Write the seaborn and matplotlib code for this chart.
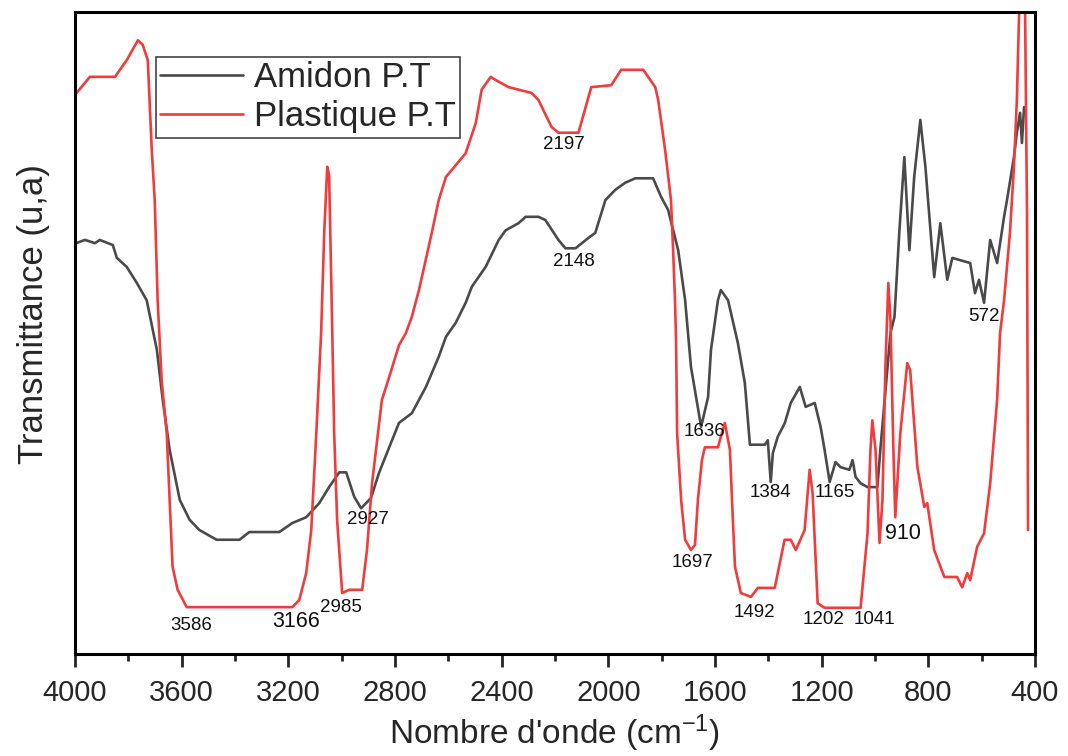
import numpy as np
import pandas as pd
import matplotlib.pyplot as plt
import seaborn as sns

# spectre FTIR : amidon et plastique
wn_amidon = [3995, 3963, 3925, 3907, 3858, 3843, 3806, 3768, 3731, 3693, 3671, 3645, 3607, 3570,
             3533, 3469, 3383, 3346, 3234, 3185, 3133, 3084, 3047, 3009, 2983, 2953, 2927, 2890,
             2860, 2811, 2785, 2737, 2684, 2636, 2609, 2572, 2535, 2512, 2460, 2411, 2385, 2337,
             2310, 2262, 2236, 2187, 2161, 2123, 2075, 2049, 2011, 1974, 1937, 1899, 1832, 1802,
             1776, 1738, 1712, 1690, 1652, 1626, 1615, 1589, 1578, 1551, 1514, 1488, 1469, 1413,
             1402, 1391, 1383, 1365, 1338, 1316, 1282, 1260, 1226, 1204, 1189, 1170, 1148, 1129,
             1096, 1084, 1073, 1054, 1028, 991, 980, 953, 942, 927, 909, 890, 871, 853, 830, 811,
             778, 755, 729, 710, 643, 625, 610, 591, 568, 542, 516, 505, 479, 468, 456, 449, 441]
t_amidon = [64.0, 64.5, 64.0, 64.5, 63.7, 61.7, 60.3, 57.8, 55.1, 47.4, 39.6, 31.8, 24.0, 20.9,
            19.3, 17.8, 17.8, 19.0, 19.0, 20.4, 21.3, 23.5, 26.0, 28.3, 28.3, 24.5, 22.7, 24.3,
            28.2, 33.3, 36.0, 37.5, 41.6, 46.3, 49.4, 51.6, 54.7, 57.2, 60.3, 64.5, 66.0, 67.1,
            68.1, 68.1, 67.6, 64.5, 63.2, 63.2, 64.8, 65.6, 70.7, 72.3, 73.4, 74.1, 74.1, 71.2,
            69.2, 62.9, 55.1, 44.7, 35.4, 40.0, 47.4, 55.1, 56.7, 55.1, 48.4, 42.2, 32.6, 32.6,
            33.3, 26.8, 31.3, 33.8, 36.0, 39.1, 41.6, 38.5, 39.1, 35.4, 31.8, 26.8, 29.9, 29.1,
            28.7, 30.2, 27.6, 26.6, 26.0, 26.0, 31.8, 44.7, 50.0, 52.5, 65.6, 77.4, 62.9, 74.3,
            83.2, 75.9, 58.7, 67.1, 58.3, 61.7, 60.9, 56.2, 58.3, 54.7, 64.5, 60.9, 68.1, 70.7,
            77.4, 81.2, 84.3, 79.6, 85.2]

wn_plastique = [4000, 3944, 3850, 3806, 3764, 3746, 3727, 3712, 3701, 3690, 3675, 3656, 3634, 3615,
                3581, 3185, 3159, 3133, 3114, 3095, 3077, 3065, 3054, 3047, 3036, 3028, 3017, 2998,
                2972, 2923, 2905, 2886, 2849, 2822, 2785, 2759, 2737, 2710, 2662, 2636, 2609, 2535,
                2497, 2475, 2441, 2422, 2374, 2288, 2262, 2213, 2187, 2112, 2064, 1989, 1952, 1869,
                1824, 1813, 1787, 1765, 1757, 1750, 1746, 1742, 1727, 1712, 1690, 1675, 1664, 1649,
                1638, 1589, 1563, 1544, 1533, 1525, 1503, 1465, 1439, 1376, 1339, 1316, 1297, 1264,
                1245, 1234, 1215, 1189, 1054, 1028, 1017, 1010, 998, 983, 972, 961, 950, 942, 931,
                924, 905, 879, 868, 841, 815, 804, 778, 740, 692, 673, 654, 643, 617, 591, 568, 542,
                531, 516, 494, 479, 468, 460, 453, 438, 430, 426]
t_plastique = [87.1, 89.9, 89.9, 92.5, 95.6, 94.9, 92.5, 78.5, 70.7, 55.1, 42.7, 34.4, 13.6, 10.0,
               7.3, 7.3, 8.4, 12.6, 19.3, 34.4, 50.0, 66.0, 75.9, 74.6, 52.0, 34.4, 20.9, 9.5,
               10.0, 10.0, 16.2, 26.6, 39.6, 43.1, 48.1, 50.0, 52.5, 56.7, 65.6, 70.7, 74.3, 78.0,
               82.7, 87.9, 89.9, 89.4, 88.3, 87.4, 86.3, 82.1, 81.2, 81.2, 88.3, 88.6, 91.0, 91.0,
               88.3, 86.3, 78.5, 70.7, 62.9, 55.1, 48.9, 34.4, 24.0, 17.8, 16.2, 17.0, 24.0, 30.2,
               32.2, 32.2, 36.0, 31.8, 20.9, 13.6, 9.5, 8.9, 10.3, 10.3, 17.8, 17.8, 16.2, 19.3,
               28.7, 25.1, 7.9, 7.2, 7.2, 18.8, 31.8, 36.4, 31.8, 17.3, 24.0, 44.7, 57.8, 52.0, 31.8,
               21.3, 34.4, 45.3, 44.2, 29.1, 22.9, 23.5, 16.2, 12.0, 12.0, 10.4, 12.6, 11.5, 16.7,
               18.8, 26.6, 39.6, 50.0, 55.1, 65.6, 75.9, 86.3, 99.2, 104.0, 104.0, 68.7, 19.3]

# etiquettes des pics
pics = ["2197", "2148", "3586", "3166", "2985", "2927", "1697", "1636",
        "1384", "1165", "1492", "1202", "1041", "910", "572"]
pics_x = [2168, 2131, 3563, 3170, 3002, 2901, 1686, 1641, 1391, 1152, 1451, 1193, 1002, 897, 591]
pics_y = [79.3, 61.1, 4.5, 5.0, 7.3, 21.0, 14.3, 34.6, 25.1, 25.1, 6.4, 5.3, 5.3, 18.8, 52.5]
pics_taille = [13.5, 13.5, 13.5, 15.5, 13.5, 13.5, 13.5, 13.5, 13.5, 13.5, 13.5, 13.5, 13.5, 15.5, 13.5]

df = pd.concat([
    pd.DataFrame({"wn": wn_amidon, "T": t_amidon, "echantillon": "Amidon P.T"}),
    pd.DataFrame({"wn": wn_plastique, "T": t_plastique, "echantillon": "Plastique P.T"}),
])

sns.set_style("white")
plt.rcParams['font.family'] = ['Liberation Sans', 'DejaVu Sans']
plt.rcParams['mathtext.fontset'] = 'custom'
plt.rcParams['mathtext.rm'] = 'Liberation Sans'

fig = plt.figure(figsize=(10.68, 7.56), dpi=100)
ax = fig.add_axes([0.0702, 0.1349, 0.8989, 0.8492])

sns.lineplot(data=df, x="wn", y="T", hue="echantillon",
             hue_order=["Amidon P.T", "Plastique P.T"],
             palette={"Amidon P.T": "#4a4a4a", "Plastique P.T": "#f03c3c"},
             sort=False, estimator=None, linewidth=1.9, ax=ax)

for txt, x, y, s in zip(pics, pics_x, pics_y, pics_taille):
    ax.text(x, y, txt, fontsize=s, ha="center", va="center", color="#111111")

ax.set_xlim(4000, 400)
ax.set_ylim(0, 100)
ax.set_xticks(np.arange(4000, 399, -400))
ax.set_xticks(np.arange(3800, 400, -400), minor=True)
ax.set_yticks([])
ax.tick_params(axis="x", which="major", direction="out", length=9, width=2,
               labelsize=21, pad=9, bottom=True)
ax.tick_params(axis="x", which="minor", direction="out", length=5, width=2, bottom=True)
for sp in ax.spines.values():
    sp.set_linewidth(2.2)
    sp.set_color("black")

ax.set_xlabel("Nombre d'onde (cm$\\mathregular{^{-1}}$)", fontsize=24, labelpad=4)
ax.set_ylabel("Transmittance (u,a)", fontsize=25)
ax.yaxis.set_label_coords(-0.026, 0.53)

ax.legend(loc="upper left", bbox_to_anchor=(0.084, 0.93), fontsize=25,
          frameon=True, fancybox=False, edgecolor="#444444", framealpha=1,
          handlelength=2.4, handletextpad=0.3, labelspacing=0.18,
          borderpad=0.12, borderaxespad=0)
ax.get_legend().get_frame().set_linewidth(1.2)

fig.savefig("out.png", dpi=100)
